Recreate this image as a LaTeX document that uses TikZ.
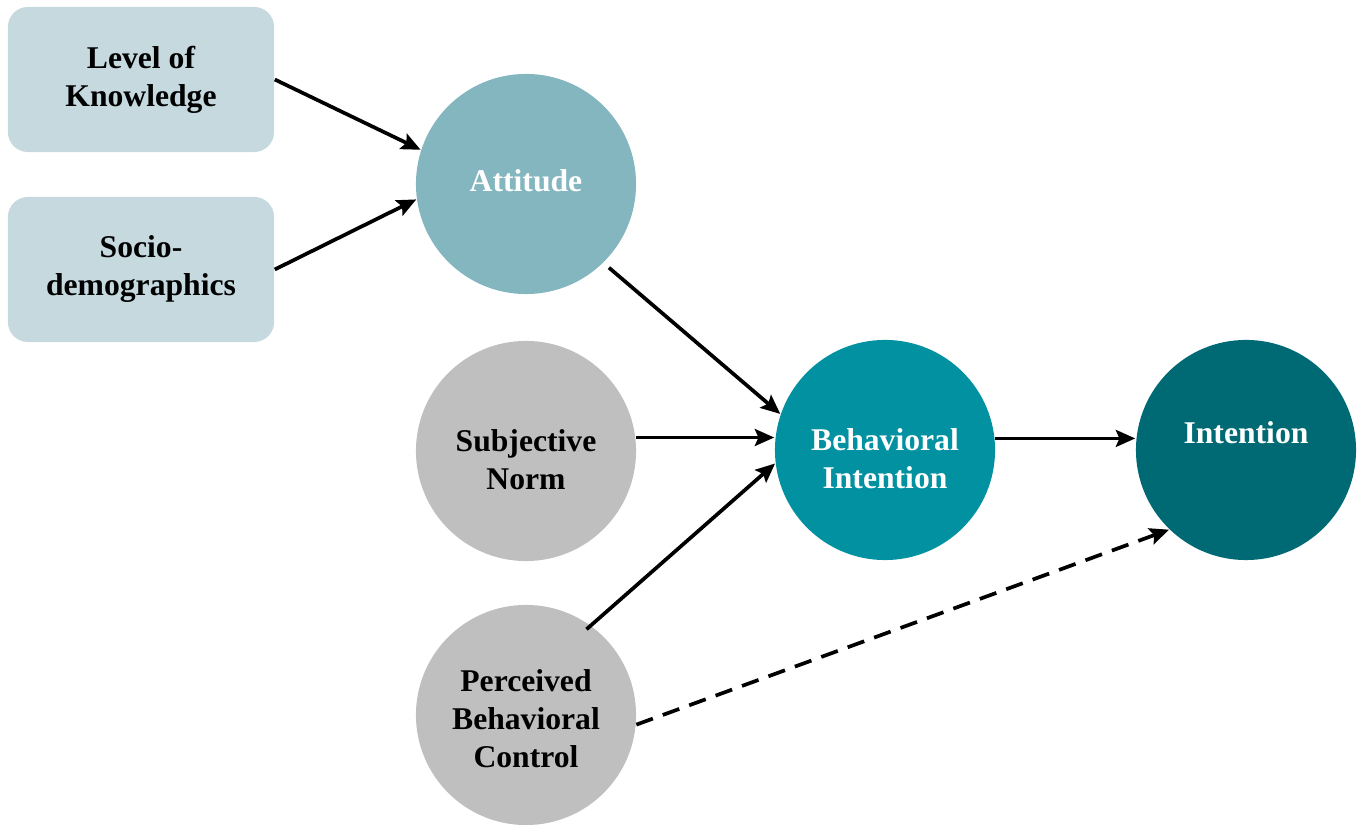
\documentclass[tikz,border=0pt]{standalone}
\usepackage{fontspec}
\setmainfont{Liberation Serif}
\usetikzlibrary{arrows.meta}
\definecolor{boxc}{HTML}{C5D9DF}
\definecolor{attc}{HTML}{84B6BF}
\definecolor{bic}{HTML}{0191A1}
\definecolor{intc}{HTML}{006A74}
\definecolor{grayc}{HTML}{BFBFBF}
\begin{document}
\begin{tikzpicture}[x=0.01cm,y=-0.01cm,
  txt/.style={font=\fontsize{9}{10.8}\selectfont\bfseries, align=center},
  boxn/.style={draw=none, fill=boxc, rounded corners=0.2cm, minimum width=2.66cm, minimum height=1.45cm, txt},
  circ/.style={circle, draw=none, minimum size=2.2cm, inner sep=0pt, txt},
  arr/.style={line width=1.05pt, -{Stealth[length=5.5pt,width=4.8pt,inset=1pt]}}
]
\useasboundingbox (0,0) rectangle (1360,825);
\node[boxn] (LK) at (141,79.5) {Level of\\Knowledge};
\node[boxn] (SD) at (141,269.5) {Socio-\\demographics};
\node[circ, fill=attc, label={[txt,text=white,yshift=1pt]center:Attitude}] (AT) at (526,184) {};
\node[circ, fill=grayc, label={[txt,yshift=-2.6pt]center:Subjective\\Norm}] (SN) at (526,451) {};
\node[circ, fill=grayc, label={[txt,yshift=-1pt]center:Perceived\\Behavioral\\Control}] (PBC) at (526,715) {};
\node[circ, fill=bic, label={[txt,text=white,yshift=-2.6pt]center:Behavioral\\Intention}] (BI) at (885,450) {};
\node[circ, fill=intc, label={[txt,text=white,yshift=5pt]center:Intention}] (INT) at (1246,450) {};
\draw[arr] (LK.east) -- (AT.162);
\draw[arr] (SD.east) -- (AT.188);
\draw[arr] ([shift={(6,4)}]AT.-46) -- (BI.161);
\draw[arr] (SN.7) -- (SN.7 -| BI.west);
\draw[arr] ([shift={(-3,5)}]PBC.55) -- (BI.187);
\draw[arr] (BI.6) -- (BI.6 -| INT.west);
\draw[arr, dash pattern=on 5pt off 3pt] (PBC.-5) -- (INT.226);
\end{tikzpicture}
\end{document}
